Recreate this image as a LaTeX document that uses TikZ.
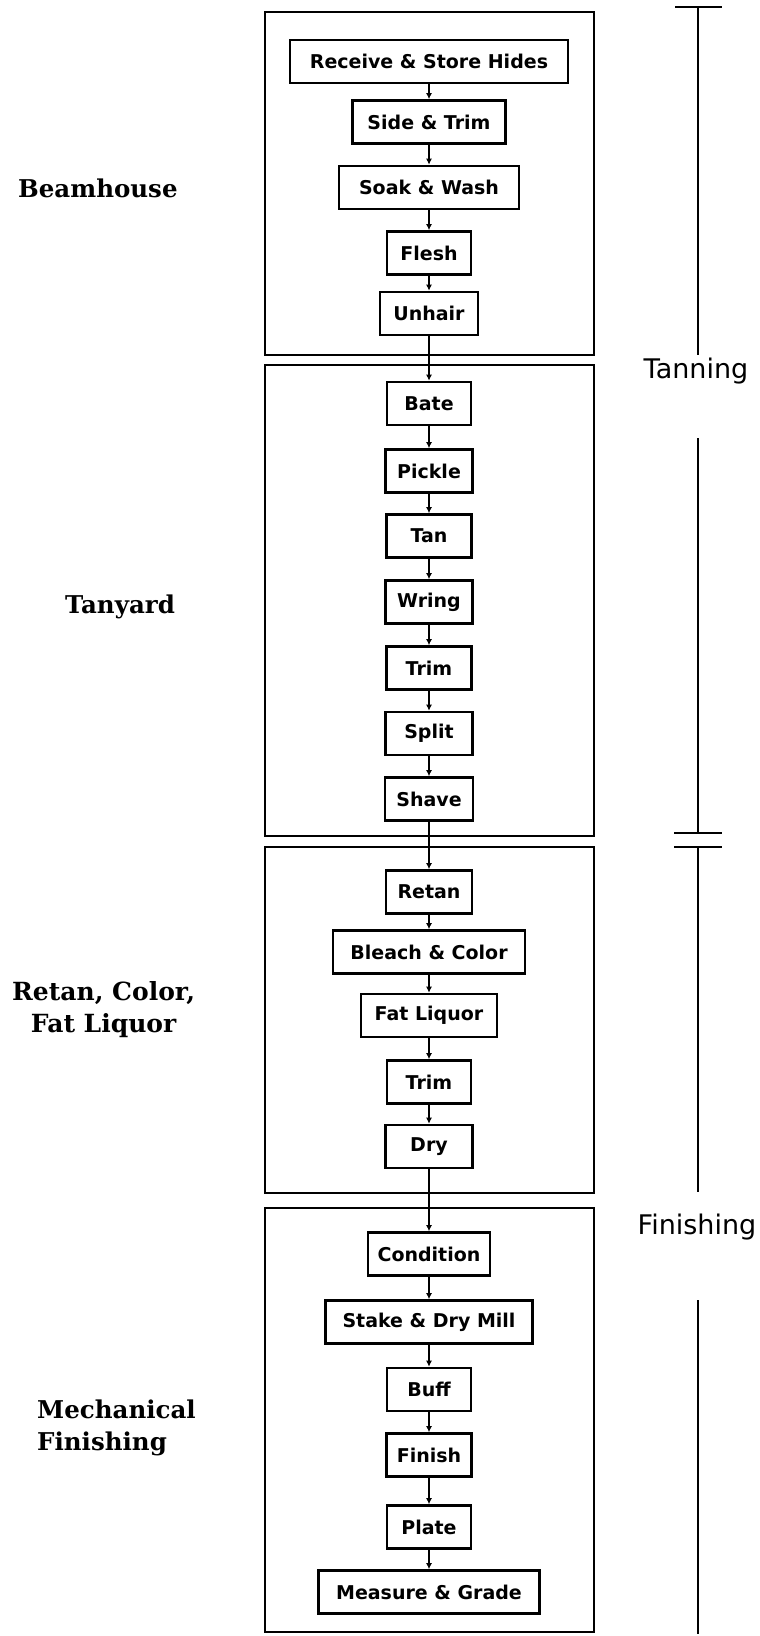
\documentclass[tikz,border=0pt]{standalone}
\usepackage{fontspec}
\usepackage{tikz}
\usetikzlibrary{arrows.meta,positioning}
\newfontfamily\boxfont{DejaVu Sans}
\newfontfamily\stagefont{DejaVu Serif}
\tikzset{
  procbox/.style={draw=black, line width=2.6pt, align=center, fill=white, inner sep=2pt, minimum height=43pt, font=\boxfont\bfseries\fontsize{19}{22}\selectfont},
  stagebox/.style={draw=black, line width=2.7pt, inner sep=0pt, minimum width=329pt},
  stagelabel/.style={font=\stagefont\bfseries\fontsize{24.5}{32}\selectfont, anchor=west, align=left, inner sep=0pt},
  phaselabel/.style={font=\boxfont\fontsize{27}{30}\selectfont, inner sep=0pt},
  flowarrow/.style={-{Latex[length=6pt,width=6pt]}, line width=2.2pt, draw=black},
  bracketline/.style={line width=2.8pt, draw=black}
}

\begin{document}
\begin{tikzpicture}[x=1pt, y=-1pt]
  \useasboundingbox (0,0) rectangle (760,1636);

  % stage frames
  \node[stagebox, minimum height=343pt] (beamframe) at (429.5,183.5) {};
  \node[stagebox, minimum height=471pt] (tanframe) at (429.5,600.5) {};
  \node[stagebox, minimum height=346pt] (retanframe) at (429.5,1020) {};
  \node[stagebox, minimum height=424pt] (mechframe) at (429.5,1420) {};

  % stage names
  \node[stagelabel] (beamhouse) at (18,188) {Beamhouse};
  \node[stagelabel] (tanyard) at (65,607) {Tanyard};
  \node[stagelabel, align=center, font=\stagefont\bfseries\fontsize{25}{32}\selectfont] (retan) at (12,1010) {Retan, Color,\\Fat Liquor};
  \node[stagelabel] (mechanical) at (37,1428) {Mechanical\\Finishing};

  % process steps
  \node[procbox, minimum width=278pt] (receive) at (429,61.5) {Receive \& Store Hides};
  \node[procbox, minimum width=153pt] (side) at (429,122) {Side \& Trim};
  \node[procbox, minimum width=180pt] (soak) at (429,187.5) {Soak \& Wash};
  \node[procbox, minimum width=84pt] (flesh) at (429,253) {Flesh};
  \node[procbox, minimum width=98pt] (unhair) at (429,313.5) {Unhair};
  \node[procbox, minimum width=84pt] (bate) at (429,403.5) {Bate};
  \node[procbox, minimum width=87pt] (pickle) at (429,471) {Pickle};
  \node[procbox, minimum width=85pt] (tan) at (429,536) {Tan};
  \node[procbox, minimum width=87pt] (wring) at (429,602) {Wring};
  \node[procbox, minimum width=85pt] (trimone) at (429,668) {Trim};
  \node[procbox, minimum width=87pt] (split) at (429,733.5) {Split};
  \node[procbox, minimum width=88pt] (shave) at (429,799) {Shave};
  \node[procbox, minimum width=86pt] (retanstep) at (429,892) {Retan};
  \node[procbox, minimum width=192pt] (bleach) at (429,952) {Bleach \& Color};
  \node[procbox, minimum width=136pt] (fatliquor) at (429,1015.5) {Fat Liquor};
  \node[procbox, minimum width=84pt] (trimtwo) at (429,1082) {Trim};
  \node[procbox, minimum width=87pt] (dry) at (429,1146.5) {Dry};
  \node[procbox, minimum width=122pt] (condition) at (429,1254) {Condition};
  \node[procbox, minimum width=207pt] (stake) at (429,1322) {Stake \& Dry Mill};
  \node[procbox, minimum width=84pt] (buff) at (429,1389.5) {Buff};
  \node[procbox, minimum width=85pt] (finish) at (429,1455) {Finish};
  \node[procbox, minimum width=84pt] (plate) at (429,1527) {Plate};
  \node[procbox, minimum width=221pt] (measure) at (429,1592) {Measure \& Grade};

  \draw[flowarrow] (receive) -- (side);
  \draw[flowarrow] (side) -- (soak);
  \draw[flowarrow] (soak) -- (flesh);
  \draw[flowarrow] (flesh) -- (unhair);
  \draw[flowarrow] (unhair) -- (bate);
  \draw[flowarrow] (bate) -- (pickle);
  \draw[flowarrow] (pickle) -- (tan);
  \draw[flowarrow] (tan) -- (wring);
  \draw[flowarrow] (wring) -- (trimone);
  \draw[flowarrow] (trimone) -- (split);
  \draw[flowarrow] (split) -- (shave);
  \draw[flowarrow] (shave) -- (retanstep);
  \draw[flowarrow] (retanstep) -- (bleach);
  \draw[flowarrow] (bleach) -- (fatliquor);
  \draw[flowarrow] (fatliquor) -- (trimtwo);
  \draw[flowarrow] (trimtwo) -- (dry);
  \draw[flowarrow] (dry) -- (condition);
  \draw[flowarrow] (condition) -- (stake);
  \draw[flowarrow] (stake) -- (buff);
  \draw[flowarrow] (buff) -- (finish);
  \draw[flowarrow] (finish) -- (plate);
  \draw[flowarrow] (plate) -- (measure);

  % phase brackets
  \node[phaselabel] (tanning) at (696,371) {Tanning};
  \node[phaselabel] (finishing) at (697,1227) {Finishing};
  \coordinate (tantop) at (698,7);
  \coordinate (tanabove) at (698,355);
  \coordinate (tanbelow) at (698,438);
  \coordinate (tanend) at (698,833);
  \coordinate (finstart) at (698,847);
  \coordinate (finabove) at (698,1192);
  \coordinate (finbelow) at (698,1300);
  \coordinate (finend) at (698,1634);
  \draw[bracketline] ([xshift=-23pt]tantop) -- ([xshift=24pt]tantop);
  \draw[bracketline] ([xshift=-24pt]tanend) -- ([xshift=24pt]tanend);
  \draw[bracketline] ([xshift=-24pt]finstart) -- ([xshift=24pt]finstart);
  \draw[bracketline] (tantop) -- (tanabove);
  \draw[bracketline] (tanbelow) -- (tanend);
  \draw[bracketline] (finstart) -- (finabove);
  \draw[bracketline] (finbelow) -- (finend);
\end{tikzpicture}
\end{document}
